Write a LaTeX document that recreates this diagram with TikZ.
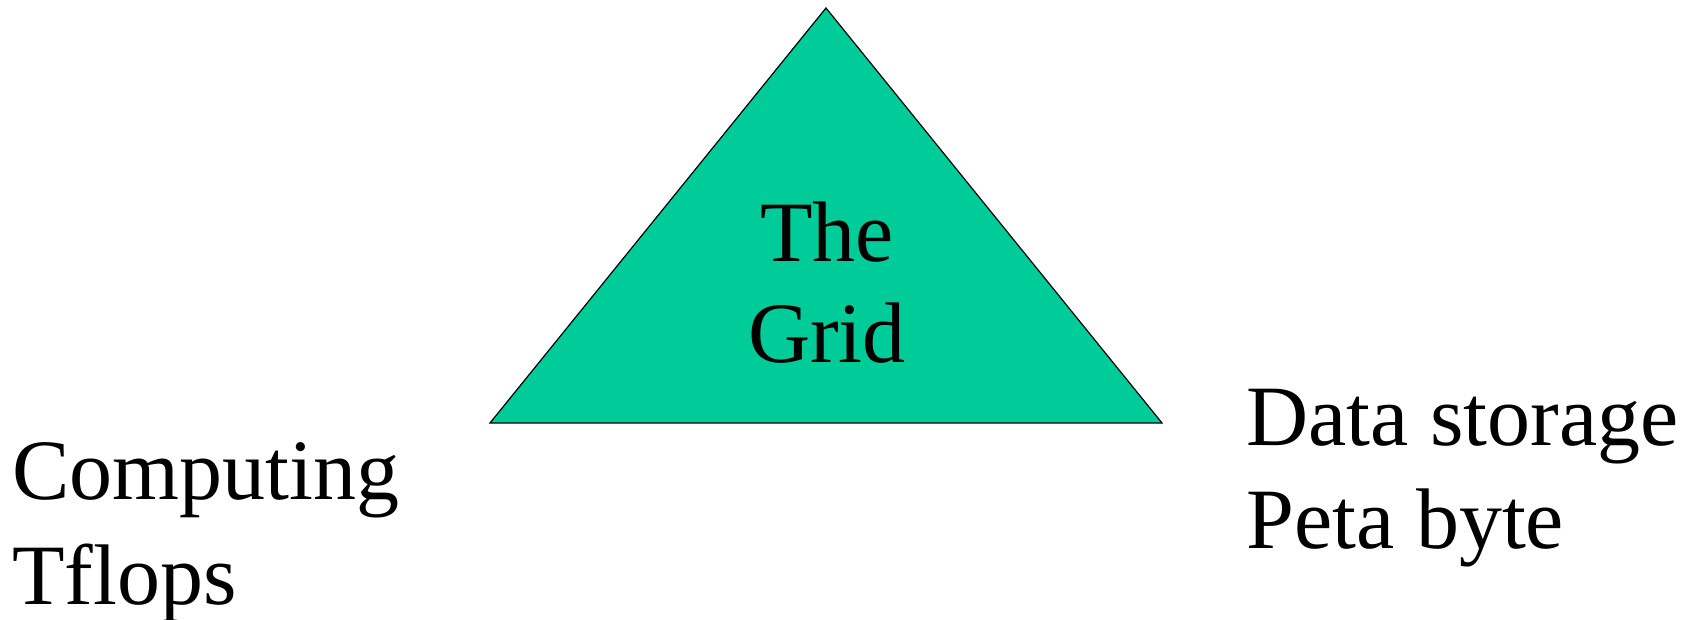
\documentclass[tikz,border=0pt]{standalone}
\usepackage{fontspec}
\setmainfont{Liberation Serif}
\definecolor{gridGreen}{HTML}{00CC99}
\begin{document}
\begin{tikzpicture}[
    x=0.5pt, y=-0.5pt,
    bigLabel/.style={inner sep=0pt, font=\fontsize{43}{50.5}\selectfont},
    gridTri/.style={draw=black, fill=gridGreen, line width=0.6pt, line join=miter},
]
\useasboundingbox (0,0) rectangle (1694,620);
% === triangle ===
\coordinate (apex) at (826,8);
\coordinate (baseL) at (490,423);
\coordinate (baseR) at (1162,423);
\draw[gridTri] (apex) -- (baseR) -- (baseL) -- cycle;
\node[bigLabel, anchor=base] (gridA) at (827,262) {The};
\node[bigLabel, anchor=base] (gridB) at (827,363) {Grid};
% === left ===
\node[bigLabel, anchor=base west] (compA) at (12,500) {Computing};
\node[bigLabel, anchor=base west] (compB) at (12,604) {Tflops};
% === right ===
\node[bigLabel, anchor=base west] (dataA) at (1246,445) {Data storage};
\node[bigLabel, anchor=base west] (dataB) at (1246,548) {Peta byte};
\end{tikzpicture}
\end{document}
